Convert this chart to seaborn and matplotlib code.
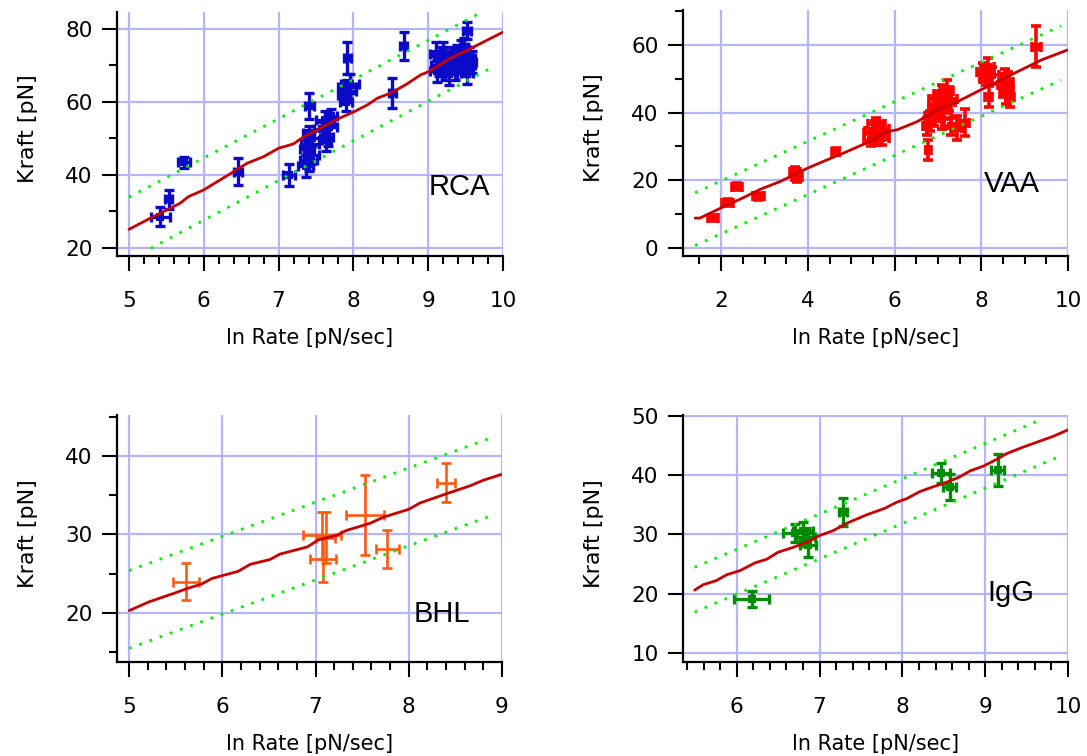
import matplotlib
matplotlib.use("Agg")
import matplotlib.pyplot as plt
from matplotlib.ticker import MultipleLocator
import seaborn as sns

sns.set_theme(style="white")
plt.rcParams["font.family"] = ["DejaVu Sans"]
plt.rcParams["text.color"] = "black"
plt.rcParams["axes.labelcolor"] = "black"
plt.rcParams["xtick.color"] = "black"
plt.rcParams["ytick.color"] = "black"

# ---------------- RCA ----------------
rca_x = [5.42, 5.53, 5.74, 6.46, 7.14,
         7.36, 7.40, 7.44, 7.38, 7.42, 7.45, 7.40, 7.41,
         7.58, 7.62, 7.68, 7.70, 7.66, 7.64,
         7.88, 7.90, 7.93, 7.95, 7.92, 7.92,
         8.52, 8.67,
         9.10, 9.14, 9.18, 9.22, 9.26, 9.30, 9.34, 9.38, 9.42, 9.46, 9.50, 9.54, 9.58,
         9.12, 9.20, 9.28, 9.36, 9.44, 9.52, 9.48, 9.52]
rca_y = [28.6, 33.3, 43.4, 40.9, 40.0,
         42.5, 44.0, 45.5, 47.0, 48.5, 50.0, 51.5, 58.9,
         52.5, 55.0, 53.0, 56.0, 50.5, 49.5,
         62.0, 60.0, 63.0, 65.0, 64.0, 72.0,
         62.4, 75.2,
         73.0, 70.0, 72.0, 69.0, 71.0, 72.5, 70.5, 73.0, 71.0, 72.0, 70.0, 72.0, 71.0,
         68.5, 74.0, 67.5, 69.0, 74.5, 68.0, 75.0, 79.5]
rca_xerr = [0.13, 0.05, 0.08, 0.05, 0.08,
            0.10, 0.12, 0.10, 0.10, 0.12, 0.10, 0.08, 0.06,
            0.10, 0.12, 0.10, 0.08, 0.07, 0.06,
            0.08, 0.08, 0.10, 0.12, 0.12, 0.05,
            0.05, 0.05,
            0.08, 0.10, 0.10, 0.12, 0.10, 0.10, 0.10, 0.12, 0.10, 0.10, 0.12, 0.08, 0.06,
            0.10, 0.10, 0.10, 0.10, 0.10, 0.08, 0.05, 0.05]
rca_yerr = [2.5, 2.5, 1.5, 3.7, 3.0,
            3.0, 3.0, 2.5, 2.5, 2.5, 2.0, 2.0, 3.5,
            2.0, 2.5, 3.0, 2.0, 2.5, 3.0,
            2.0, 2.5, 2.5, 2.5, 2.0, 4.5,
            4.0, 3.8,
            3.5, 3.0, 3.0, 3.0, 3.0, 2.5, 3.0, 2.5, 3.0, 3.0, 3.0, 3.0, 3.0,
            3.0, 2.5, 3.0, 3.0, 2.5, 3.0, 2.5, 2.3]
rca_fit_x = [5.00, 5.28, 5.68, 5.80, 6.00, 6.40, 6.58, 6.80, 7.00, 7.20, 7.34, 7.56, 7.81,
             8.01, 8.19, 8.32, 8.50, 8.70, 8.90, 9.01, 9.30, 9.53, 9.75, 10.00]
rca_fit_y = [25.1, 28.1, 32.2, 34.1, 35.9, 40.9, 43.2, 45.0, 47.3, 48.5, 50.5, 52.8, 55.5,
             57.3, 59.2, 61.0, 62.4, 64.7, 67.4, 68.3, 72.0, 74.2, 76.5, 79.1]
rca_up_x, rca_up_y = [5.00, 9.73], [33.9, 84.7]
rca_lo_x, rca_lo_y = [5.29, 9.88], [19.9, 69.7]

# ---------------- VAA ----------------
vaa_x = [1.81, 2.15, 2.36, 2.86, 3.71, 3.75, 4.64,
         5.45, 5.50, 5.58, 5.62, 5.68, 5.72, 5.55,
         6.78, 6.75, 6.82, 6.90, 6.95, 7.00, 7.05, 7.10, 7.15, 7.20, 7.25, 7.10, 7.30, 7.45, 7.62,
         8.05, 8.15, 8.25, 8.10, 8.17,
         8.50, 8.58, 8.62, 8.66, 8.55,
         9.27]
vaa_y = [8.8, 13.4, 18.1, 15.2, 22.5, 21.0, 28.4,
         32.0, 34.5, 36.5, 33.0, 35.0, 32.5, 34.0,
         29.0, 36.0, 37.5, 39.0, 42.5, 44.0, 41.0, 45.5, 43.0, 46.5, 44.0, 38.0, 36.0, 35.5, 37.0,
         52.0, 53.5, 51.0, 50.0, 44.7,
         48.0, 46.0, 49.0, 44.5, 50.5,
         59.5]
vaa_xerr = [0.12, 0.12, 0.12, 0.12, 0.12, 0.12, 0.08,
            0.15, 0.18, 0.20, 0.20, 0.18, 0.15, 0.25,
            0.05, 0.10, 0.12, 0.20, 0.15, 0.20, 0.25, 0.20, 0.25, 0.15, 0.20, 0.20, 0.15, 0.10, 0.10,
            0.15, 0.15, 0.15, 0.12, 0.08,
            0.12, 0.15, 0.12, 0.10, 0.10,
            0.10]
vaa_yerr = [1.0, 1.0, 1.0, 1.0, 1.5, 1.5, 1.0,
            2.0, 2.5, 2.0, 2.5, 2.5, 2.0, 3.5,
            3.0, 2.5, 3.0, 3.0, 2.5, 2.5, 3.5, 2.5, 3.0, 3.0, 3.5, 3.0, 2.5, 3.5, 4.0,
            2.5, 2.5, 2.5, 2.0, 3.0,
            3.5, 3.5, 3.0, 3.0, 2.5,
            6.0]
vaa_fit_x = [1.40, 1.51, 1.98, 2.44, 2.90, 3.36, 3.98, 4.44, 4.91, 5.37, 5.83, 6.06, 6.52,
             6.99, 7.45, 7.91, 8.37, 8.84, 9.38, 9.99]
vaa_fit_y = [8.8, 8.8, 11.7, 14.4, 17.3, 19.6, 23.5, 26.0, 28.5, 31.1, 34.4, 34.9, 37.3,
             40.8, 43.2, 46.2, 49.1, 52.1, 55.5, 58.5]
vaa_up_x, vaa_up_y = [1.40, 9.84], [16.3, 65.6]
vaa_lo_x, vaa_lo_y = [1.40, 9.84], [0.7, 49.6]

# ---------------- BHL ----------------
bhl_x = [5.61, 7.07, 7.11, 7.08, 7.53, 7.77, 8.40]
bhl_y = [24.0, 29.9, 29.6, 26.9, 32.5, 28.1, 36.6]
bhl_xerr = [0.14, 0.20, 0.10, 0.14, 0.20, 0.12, 0.095]
bhl_yerr = [2.4, 3.0, 3.3, 2.9, 5.1, 2.4, 2.45]
bhl_fit_x = [5.00, 5.21, 5.48, 5.62, 5.78, 5.89, 6.17, 6.30, 6.51, 6.62, 6.91, 7.03, 7.23,
             7.33, 7.58, 7.73, 8.00, 8.12, 8.41, 8.66, 8.80, 9.01]
bhl_fit_y = [20.3, 21.4, 22.5, 23.1, 23.7, 24.4, 25.3, 26.2, 26.8, 27.5, 28.4, 29.3, 29.9,
             30.5, 31.4, 32.2, 33.2, 34.0, 35.2, 36.2, 36.9, 37.7]
bhl_up_x, bhl_up_y = [5.00, 8.93], [25.4, 42.5]
bhl_lo_x, bhl_lo_y = [5.00, 8.93], [15.5, 32.6]

# ---------------- IgG ----------------
igg_x = [6.18, 6.70, 6.80, 6.86, 6.83, 7.28, 8.47, 8.57, 9.15]
igg_y = [19.1, 30.2, 30.5, 28.2, 29.5, 33.8, 40.4, 38.0, 40.8]
igg_xerr = [0.21, 0.14, 0.12, 0.10, 0.12, 0.05, 0.11, 0.08, 0.08]
igg_yerr = [1.4, 1.5, 1.5, 2.0, 1.5, 2.4, 1.7, 2.2, 2.7]
igg_fit_x = [5.49, 5.59, 5.75, 5.88, 6.04, 6.22, 6.36, 6.50, 6.68, 6.88, 7.00, 7.16, 7.35,
             7.57, 7.79, 7.93, 8.05, 8.21, 8.37, 8.52, 8.68, 8.82, 8.98, 9.12, 9.26, 9.46,
             9.66, 9.82, 10.00]
igg_fit_y = [20.6, 21.5, 22.2, 23.2, 23.9, 25.2, 25.8, 27.0, 27.8, 28.9, 29.8, 30.6, 32.0,
             33.3, 34.4, 35.4, 36.0, 37.2, 38.0, 38.7, 39.6, 40.7, 41.5, 42.5, 43.6, 44.7,
             45.7, 46.5, 47.6]
igg_up_x, igg_up_y = [5.49, 9.62], [24.45, 49.0]
igg_lo_x, igg_lo_y = [5.49, 9.91], [16.9, 43.2]

W, H = 1087, 756
fig = plt.figure(figsize=(W / 100, H / 100), dpi=100)

GRID = "#b4b4ff"
FIT = "#c80000"
BAND = "#00ee00"


def make_axes(box):
    left, top, right, bottom = box
    return fig.add_axes([left / W, 1 - bottom / H, (right - left) / W, (bottom - top) / H])


panels = [
    dict(box=(117, 12, 503, 256), xlim=(4.84, 10), ylim=(17.8, 84.6), xmin=0.2, ymin=10,
         xt=[5, 6, 7, 8, 9, 10], yt=[20, 40, 60, 80],
         x=rca_x, y=rca_y, xe=rca_xerr, ye=rca_yerr, color="#0a0ac8", ms=28, lw=2.4,
         fx=rca_fit_x, fy=rca_fit_y, ux=rca_up_x, uy=rca_up_y, lx=rca_lo_x, ly=rca_lo_y,
         name="RCA", nx=9.01, ny=34.5),
    dict(box=(683, 10, 1068, 256), xlim=(1.12, 10), ylim=(-2.4, 70.3), xmin=0.5, ymin=10,
         xt=[2, 4, 6, 8, 10], yt=[0, 20, 40, 60],
         x=vaa_x, y=vaa_y, xe=vaa_xerr, ye=vaa_yerr, color="#ff0000", ms=36, lw=2.6,
         fx=vaa_fit_x, fy=vaa_fit_y, ux=vaa_up_x, uy=vaa_up_y, lx=vaa_lo_x, ly=vaa_lo_y,
         name="VAA", nx=8.06, ny=16.5),
    dict(box=(117, 415, 502, 662), xlim=(4.87, 9), ylim=(13.76, 45.2), xmin=0.2, ymin=5,
         xt=[5, 6, 7, 8, 9], yt=[20, 30, 40],
         x=bhl_x, y=bhl_y, xe=bhl_xerr, ye=bhl_yerr, color="#ff5a14", ms=0, lw=1.9,
         fx=bhl_fit_x, fy=bhl_fit_y, ux=bhl_up_x, uy=bhl_up_y, lx=bhl_lo_x, ly=bhl_lo_y,
         name="BHL", nx=8.05, ny=18.85),
    dict(box=(683, 415, 1068, 662), xlim=(5.35, 10), ylim=(8.5, 50.1), xmin=0.2, ymin=None,
         xt=[6, 7, 8, 9, 10], yt=[10, 20, 30, 40, 50],
         x=igg_x, y=igg_y, xe=igg_xerr, ye=igg_yerr, color="#008c00", ms=30, lw=2.4,
         fx=igg_fit_x, fy=igg_fit_y, ux=igg_up_x, uy=igg_up_y, lx=igg_lo_x, ly=igg_lo_y,
         name="IgG", nx=9.03, ny=18.8),
]

for p in panels:
    ax = make_axes(p["box"])
    left, top, right, bottom = p["box"]
    wpx, hpx = right - left, bottom - top
    ax.set_xlim(*p["xlim"])
    ax.set_ylim(*p["ylim"])

    ax.set_xticks(p["xt"])
    ax.set_yticks(p["yt"])
    ax.xaxis.set_minor_locator(MultipleLocator(p["xmin"]))
    if p["ymin"]:
        ax.yaxis.set_minor_locator(MultipleLocator(p["ymin"]))

    ax.grid(True, which="major", color=GRID, linewidth=1.6)
    ax.set_axisbelow(True)
    for s in ("top", "right"):
        ax.spines[s].set_visible(False)
    for s in ("left", "bottom"):
        ax.spines[s].set_color("black")
        ax.spines[s].set_linewidth(1.6)

    ax.tick_params(which="both", bottom=True, left=True, direction="out", color="black",
                   width=1.5)
    ax.tick_params(which="major", length=10.5)
    ax.tick_params(which="minor", length=5.5)
    ax.tick_params(axis="x", which="major", labelsize=15.5, pad=15)
    ax.tick_params(axis="y", which="major", labelsize=15.5, pad=7)

    # measured points with error bars
    ax.errorbar(p["x"], p["y"], xerr=p["xe"], yerr=p["ye"], fmt="none", ecolor=p["color"],
                elinewidth=p["lw"], capsize=3.8, capthick=p["lw"], zorder=3)
    if p["ms"]:
        sns.scatterplot(x=p["x"], y=p["y"], ax=ax, color=p["color"], marker="s", s=p["ms"],
                        linewidth=0, legend=False, zorder=4)

    # confidence band and fit
    sns.lineplot(x=p["ux"], y=p["uy"], ax=ax, color=BAND, linewidth=2.0,
                 linestyle=(0, (1, 2.9)), sort=False, estimator=None, zorder=5)
    sns.lineplot(x=p["lx"], y=p["ly"], ax=ax, color=BAND, linewidth=2.0,
                 linestyle=(0, (1, 2.9)), sort=False, estimator=None, zorder=5)
    sns.lineplot(x=p["fx"], y=p["fy"], ax=ax, color=FIT, linewidth=2.0,
                 sort=False, estimator=None, zorder=6)

    ax.set_xlabel("ln Rate [pN/sec]", fontsize=15)
    ax.set_ylabel("Kraft [pN]", fontsize=16)
    ax.xaxis.set_label_coords(0.5, -72 / hpx)
    ax.yaxis.set_label_coords(-79 / wpx, 0.52)

    ax.text(p["nx"], p["ny"], p["name"], fontsize=21, ha="left", va="baseline",
            family=["Liberation Sans", "DejaVu Sans"], color="black", zorder=7)

fig.savefig("out.png", dpi=100)
